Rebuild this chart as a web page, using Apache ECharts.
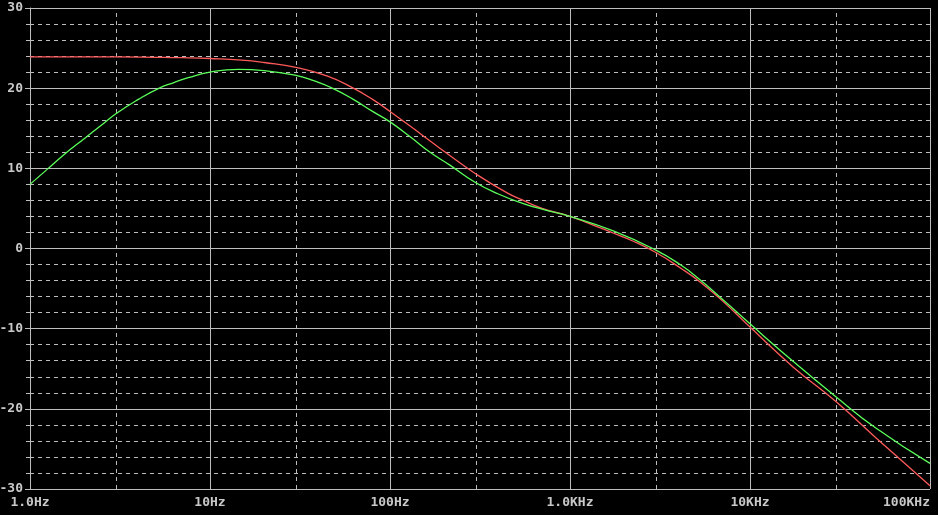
<!DOCTYPE html>
<html>
<head>
<meta charset="utf-8">
<script src="https://cdn.jsdelivr.net/npm/echarts@6/dist/echarts.min.js"></script>
<style>
html,body{margin:0;padding:0;background:#000;}
#chart{width:938px;height:515px;}
</style>
</head>
<body>
<div id="chart"></div>
<script>
// Frequencies (Hz) and values (dB)
var redFreq = [1, 2, 3, 5, 7, 10, 15, 20, 30, 45, 62.5, 80, 100, 150, 215, 300, 450, 550, 700, 1000, 1500, 1750, 2200, 3000, 4150, 5300, 7000, 10000, 17400, 30000, 50000, 100000];
var redDb   = [23.9, 23.9, 23.9, 23.85, 23.8, 23.7, 23.5, 23.2, 22.6, 21.5, 20.0, 18.6, 17.1, 14.2, 11.6, 9.3, 6.9, 6.0, 5.0, 4.0, 2.5, 1.9, 1.0, -0.5, -2.5, -4.2, -6.5, -9.8, -14.8, -19.1, -23.6, -29.6];

var greenFreq = [1, 1.25, 1.56, 2, 2.5, 3, 4, 5.16, 6.3, 7.57, 10, 14.4, 20, 30, 38, 48.4, 62.5, 80, 100, 130, 167, 215, 300, 400, 550, 700, 1000, 1740, 3000, 4150, 5275, 7000, 10000, 17400, 30000, 50000, 100000];
var greenDb   = [8.0, 9.9, 11.8, 13.7, 15.4, 16.8, 18.6, 19.95, 20.7, 21.3, 22.0, 22.35, 22.2, 21.6, 20.9, 19.95, 18.6, 17.1, 15.8, 13.9, 12.0, 10.4, 8.2, 6.8, 5.6, 4.9, 4.0, 2.2, -0.2, -2.1, -3.9, -6.3, -9.4, -14.1, -18.5, -22.4, -26.8];

var xTickValues = [1, 10, 100, 1000, 10000, 100000];
var xTickLabels = ['1.0Hz', '10Hz', '100Hz', '1.0KHz', '10KHz', '100KHz'];
var dashedFreqs = [3, 30, 300, 3000, 30000];

function pairs(xs, ys) { return xs.map(function (x, i) { return [x, ys[i]]; }); }

var gridColor = '#bdbdbd';
var textColor = '#c8c8c8';
var font = 'DejaVu Sans Mono';

var chart = echarts.init(document.getElementById('chart'), null, {renderer: 'canvas'});
chart.setOption({
  backgroundColor: '#000',
  animation: false,
  grid: {left: 30, right: 8, top: 8, bottom: 26, containLabel: false, outerBoundsMode: 'none'},
  xAxis: {
    type: 'log', logBase: 10, min: 1, max: 100000,
    axisLine: {show: true, lineStyle: {color: gridColor, width: 1}},
    axisTick: {show: true, length: 5, inside: false, lineStyle: {color: gridColor}},
    splitLine: {show: true, lineStyle: {color: gridColor, width: 1}},
    minorTick: {show: false},
    axisLabel: {
      color: textColor, fontFamily: font, fontWeight: 'bold', fontSize: 13, margin: 7,
      alignMaxLabel: 'right',
      formatter: function (v) {
        for (var i = 0; i < xTickValues.length; i++) {
          if (Math.abs(v - xTickValues[i]) / xTickValues[i] < 1e-6) return xTickLabels[i];
        }
        return '';
      }
    }
  },
  yAxis: {
    type: 'value', min: -30, max: 30, interval: 10,
    axisLine: {show: true, lineStyle: {color: gridColor, width: 1}},
    axisTick: {show: true, length: 5, lineStyle: {color: gridColor}},
    splitLine: {show: true, lineStyle: {color: gridColor, width: 1}},
    minorTick: {show: true, splitNumber: 5, length: 4, lineStyle: {color: gridColor}},
    minorSplitLine: {show: true, lineStyle: {color: gridColor, width: 1, type: [4, 4]}},
    axisLabel: {color: textColor, fontFamily: font, fontWeight: 'bold', fontSize: 13, margin: 7}
  },
  series: [
    {
      type: 'line', data: [], silent: true, z: 1,
      markLine: {
        silent: true, symbol: ['none', 'none'], z: 1,
        label: {show: false},
        lineStyle: {color: gridColor, width: 1, type: [4, 4]},
        data: dashedFreqs.map(function (f) { return {xAxis: f}; })
      }
    },
    {
      name: 'V(red)', type: 'line', data: pairs(redFreq, redDb), smooth: 0.5,
      showSymbol: false, symbol: 'none', z: 3,
      lineStyle: {color: '#ff5a5a', width: 1.3}
    },
    {
      name: 'V(green)', type: 'line', data: pairs(greenFreq, greenDb), smooth: 0.5,
      showSymbol: false, symbol: 'none', z: 4,
      lineStyle: {color: '#5aff5a', width: 1.3}
    }
  ]
});
</script>
</body>
</html>
